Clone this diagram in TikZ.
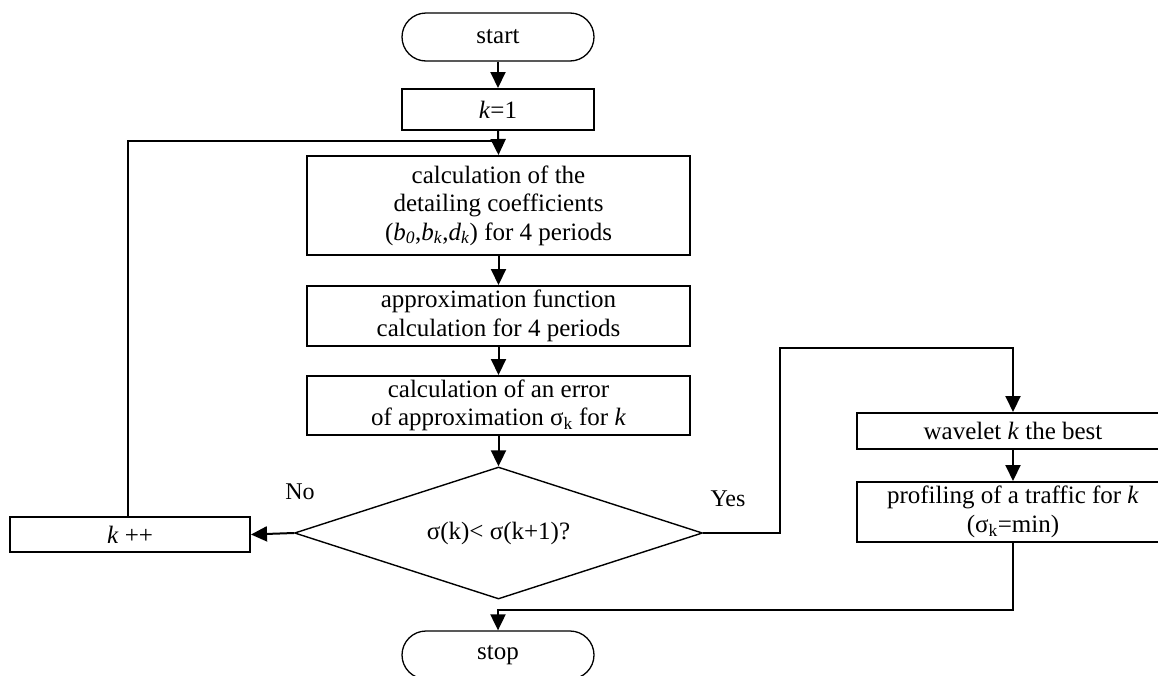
\documentclass[tikz,border=0pt]{standalone}
\usepackage{fontspec}
\setmainfont{Liberation Serif}
\usetikzlibrary{arrows.meta,shapes.geometric}
\begin{document}
\begin{tikzpicture}[x=1pt,y=-1pt,
  every node/.style={font=\fontsize{25}{28.5}\selectfont, inner sep=0pt, align=center},
  proc/.style={draw, line width=2pt, rectangle},
  term/.style={draw, line width=1.3pt, rectangle, rounded corners=24pt, minimum width=192pt, minimum height=48pt},
  decide/.style={draw, line width=1.4pt, diamond, aspect=3.1, minimum width=408pt, minimum height=132pt},
  conn/.style={line width=2pt},
  arr/.style={conn, -{Triangle[length=16pt,width=15pt]}},
  lbl/.style={font=\fontsize{24}{28}\selectfont}]
\useasboundingbox (0,0) rectangle (1158,675);
\begin{scope}
\clip (0,0) rectangle (1158,675);
\node[term] (start) at (498,37) {start};
\node[proc, minimum width=192pt, minimum height=41pt] (k1) at (498,109.5) {\textit{k}=1};
\node[proc, minimum width=383pt, minimum height=99pt] (calc) at (498.5,205.5) {calculation of the\\detailing coefficients\\(\textit{b}\textsubscript{\textit{0}},\textit{b}\textsubscript{\textit{k}},\textit{d}\textsubscript{\textit{k}}) for 4 periods};
\node[proc, minimum width=383pt, minimum height=60pt] (approx) at (498.5,316) {approximation function\\calculation for 4 periods};
\node[proc, minimum width=383pt, minimum height=59pt] (err) at (498.5,405.5) {calculation of an error\\of approximation σ\textsubscript{k} for \textit{k}};
\node[decide] (dec) at (498.5,533) {σ(k)< σ(k+1)?};
\node[proc, minimum width=240pt, minimum height=35pt] (kpp) at (130,534.5) {\textit{k} ++};
\node[proc, minimum width=312pt, minimum height=36pt] (best) at (1013,431) {wavelet \textit{k} the best};
\node[proc, minimum width=312pt, minimum height=60pt] (prof) at (1013,512) {profiling of a traffic for \textit{k}\\(σ\textsubscript{k}=min)};
\node[term] (stop) at (498,655) {stop};
\node[lbl] (no) at (300,492) {No};
\node[lbl] (yes) at (728,499) {Yes};
\coordinate (loopa) at (128,141);
\coordinate (loopb) at (498,141);
\coordinate (ya) at (780,533);
\coordinate (yb) at (780,348);
\coordinate (yc) at (1013,348);
\coordinate (sa) at (1013,610);
\coordinate (sb) at (498,610);
\draw[arr] (start.south) -- (k1.north);
\draw[arr] (k1.south) -- (calc.north);
\draw[arr] (calc.south) -- (approx.north);
\draw[arr] (approx.south) -- (err.north);
\draw[arr] (err.south) -- (dec.north);
\draw[arr] (dec.west) -- (kpp.east);
\draw[line width=1.5pt] (kpp.north -| loopa) -- (loopa) -- (loopb);
\draw[arr] (dec.east) -- (ya) -- (yb) -- (yc) -- (best.north);
\draw[arr] (best.south) -- (prof.north);
\draw[arr] (prof.south) -- (sa) -- (sb) -- (stop.north);
\end{scope}
\end{tikzpicture}
\end{document}
